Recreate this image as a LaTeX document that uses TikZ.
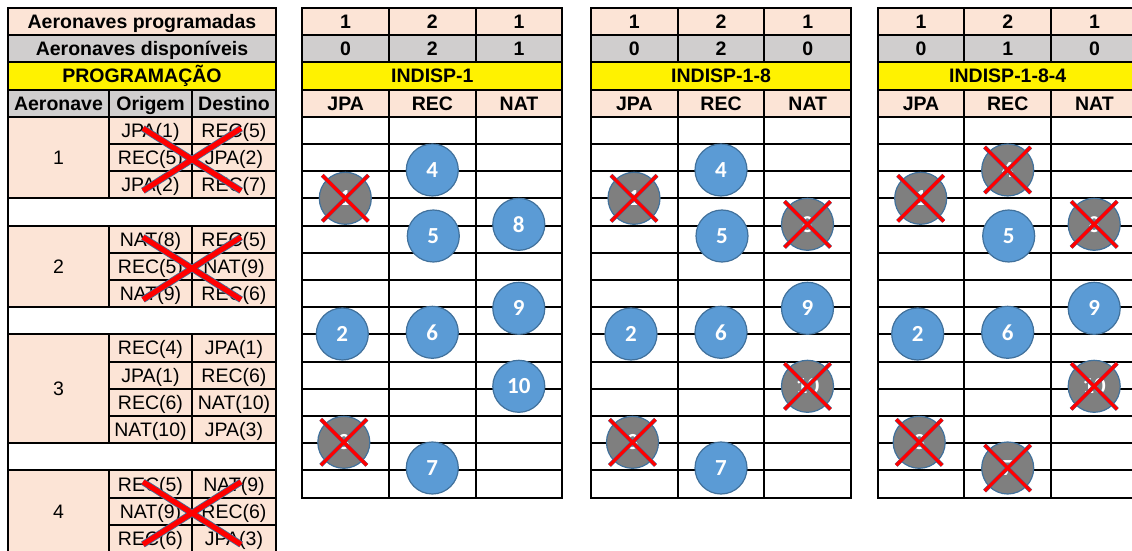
\documentclass[tikz,border=0pt]{standalone}
\usepackage{fontspec}
\setmainfont{Liberation Sans}
\newfontfamily\calibri{Carlito}
\usetikzlibrary{positioning}

\definecolor{peach}{HTML}{FCE4D6}
\definecolor{headgray}{HTML}{D0CECE}
\definecolor{ballblue}{HTML}{5B9BD5}
\definecolor{balledge}{HTML}{41719C}
\definecolor{ballgray}{HTML}{7F7F7F}
\newcommand{\ry}[1]{8+27.2*(#1)}

\begin{document}
\begin{tikzpicture}[
    x=0.5pt, y=-0.5pt,
    gridline/.style={draw=black, line width=1pt, line cap=rect},
    txt/.style={inner sep=0pt, text height=7pt, text depth=0pt, font=\fontsize{9.75}{11}\selectfont},
    hdr/.style={txt, font=\fontsize{9.75}{11}\selectfont\bfseries},
    ball/.style={circle, minimum size=26pt, inner sep=0pt, draw=balledge, line width=0.6pt, fill=ballblue, text=white, font=\calibri\fontsize{11.5}{13}\selectfont\bfseries},
    offball/.style={ball, fill=ballgray},
    cross/.style={draw=balledge, line width=0.25pt, double=red, double distance=1.6pt},
    bigcross/.style={draw=balledge, line width=0.4pt, double=red, double distance=2.6pt},
]
\useasboundingbox (0,0) rectangle (1132,551);

% programacao table
\fill[peach] (8,{\ry0}) rectangle (276,{\ry1});
\fill[headgray] (8,{\ry1}) rectangle (276,{\ry2});
\fill[yellow] (8,{\ry2}) rectangle (276,{\ry3});
\fill[headgray] (8,{\ry3}) rectangle (276,{\ry4});
\foreach \a/\b in {4/7,8/11,12/16,17/20}
  \fill[peach] (8,{\ry\a}) rectangle (276,{\ry\b});

\foreach \r in {0,1,2,3,4,7,8,11,12,16,17,20}
  \draw[gridline] (8,{\ry\r}) -- (276,{\ry\r});
\foreach \r in {5,6,9,10,13,14,15,18,19}
  \draw[gridline] (109,{\ry\r}) -- (276,{\ry\r});
\draw[gridline] (8,{\ry0}) -- (8,{\ry{20}}) (276,{\ry0}) -- (276,{\ry{20}});
\foreach \a/\b in {3/7,8/11,12/16,17/20}
  \draw[gridline] (109,{\ry\a}) -- (109,{\ry\b}) (192,{\ry\a}) -- (192,{\ry\b});

\node[hdr] (prog) at (142,{\ry{0.5}}) {Aeronaves programadas};
\node[hdr] (disp) at (142,{\ry{1.5}}) {Aeronaves disponíveis};
\node[hdr] (title) at (142,{\ry{2.5}}) {PROGRAMAÇÃO};
\node[hdr] (colA) at (58.5,{\ry{3.5}}) {Aeronave};
\node[hdr] (colO) at (150.5,{\ry{3.5}}) {Origem};
\node[hdr] (colD) at (234,{\ry{3.5}}) {Destino};

\foreach \g/\m in {1/5.5, 2/9.5, 3/14, 4/18.5}
  \node[txt] (ac\g) at (58.5,{\ry{\m}}) {\g};

\foreach \r/\o/\d in {4/JPA(1)/REC(5), 5/REC(5)/JPA(2), 6/JPA(2)/REC(7),
    8/NAT(8)/REC(5), 9/REC(5)/NAT(9), 10/NAT(9)/REC(6),
    12/REC(4)/JPA(1), 13/JPA(1)/REC(6), 14/REC(6)/NAT(10), 15/NAT(10)/JPA(3),
    17/REC(5)/NAT(9), 18/NAT(9)/REC(6), 19/REC(6)/JPA(3)} {
  \node[txt] (org\r) at (150.5,{\ry{\r+0.5}}) {\o};
  \node[txt] (dst\r) at (234,{\ry{\r+0.5}}) {\d};
}

% cancelled aircraft
\foreach \r in {4,8,17}
  \draw[bigcross] (143,{\ry\r+11.5}) -- (241,{\ry\r+74})
                  (143,{\ry\r+74}) -- (241,{\ry\r+11.5});

% INDISP tables
\foreach \L/\progA/\progB/\progC/\dispA/\dispB/\dispC/\ttl [count=\k] in
    {302.3/1/2/1/0/2/1/INDISP-1, 591/1/2/1/0/2/0/INDISP-1-8, 877.7/1/2/1/0/1/0/INDISP-1-8-4} {
  \fill[peach] (\L,{\ry0}) rectangle ({\L+260.1},{\ry1});
  \fill[headgray] (\L,{\ry1}) rectangle ({\L+260.1},{\ry2});
  \fill[yellow] (\L,{\ry2}) rectangle ({\L+260.1},{\ry3});
  \fill[peach] (\L,{\ry3}) rectangle ({\L+260.1},{\ry4});
  \foreach \r in {0,...,18}
    \draw[gridline] (\L,{\ry\r}) -- ({\L+260.1},{\ry\r});
  \foreach \c in {0,3}
    \draw[gridline] ({\L+86.7*\c},{\ry0}) -- ({\L+86.7*\c},{\ry{18}});
  \foreach \c in {1,2}
    \draw[gridline] ({\L+86.7*\c},{\ry0}) -- ({\L+86.7*\c},{\ry2})
                    ({\L+86.7*\c},{\ry3}) -- ({\L+86.7*\c},{\ry{18}});
  \node[hdr] (prog\k a) at ({\L+43.35},{\ry{0.5}}) {\progA};
  \node[hdr] (prog\k b) at ({\L+130.05},{\ry{0.5}}) {\progB};
  \node[hdr] (prog\k c) at ({\L+216.75},{\ry{0.5}}) {\progC};
  \node[hdr] (disp\k a) at ({\L+43.35},{\ry{1.5}}) {\dispA};
  \node[hdr] (disp\k b) at ({\L+130.05},{\ry{1.5}}) {\dispB};
  \node[hdr] (disp\k c) at ({\L+216.75},{\ry{1.5}}) {\dispC};
  \node[hdr] (title\k) at ({\L+130.05},{\ry{2.5}}) {\ttl};
  \node[hdr] (jpa\k) at ({\L+43.35},{\ry{3.5}}) {JPA};
  \node[hdr] (rec\k) at ({\L+130.05},{\ry{3.5}}) {REC};
  \node[hdr] (nat\k) at ({\L+216.75},{\ry{3.5}}) {NAT};
}

% aircraft balls: 1 = available, 0 = crossed out (per table)
\foreach \n/\dx/\dy/\stA/\stB/\stC in {1/43/198.3/0/0/0, 4/130/170/1/1/0,
    5/131/236/1/1/1, 8/216.5/224.3/1/0/0, 9/216.5/308.3/1/1/1,
    2/40/334/1/1/1, 6/130/332.3/1/1/1, 10/216.5/386.3/1/0/0,
    3/41.5/442.3/0/0/0, 7/130/468/1/1/0} {
  \foreach \tbl/\L/\st in {a/302.3/\stA, b/591/\stB, c/877.7/\stC} {
    \ifnum\st=1
      \node[ball] (\tbl\n) at ({\L+\dx},\dy) {\n};
    \else
      \node[offball] (\tbl\n) at ({\L+\dx},\dy) {\n};
      \draw[cross] ([shift={(-23,-23)}]\tbl\n.center) -- ([shift={(23,23)}]\tbl\n.center)
                   ([shift={(-23,23)}]\tbl\n.center) -- ([shift={(23,-23)}]\tbl\n.center);
    \fi
  }
}

\end{tikzpicture}
\end{document}
